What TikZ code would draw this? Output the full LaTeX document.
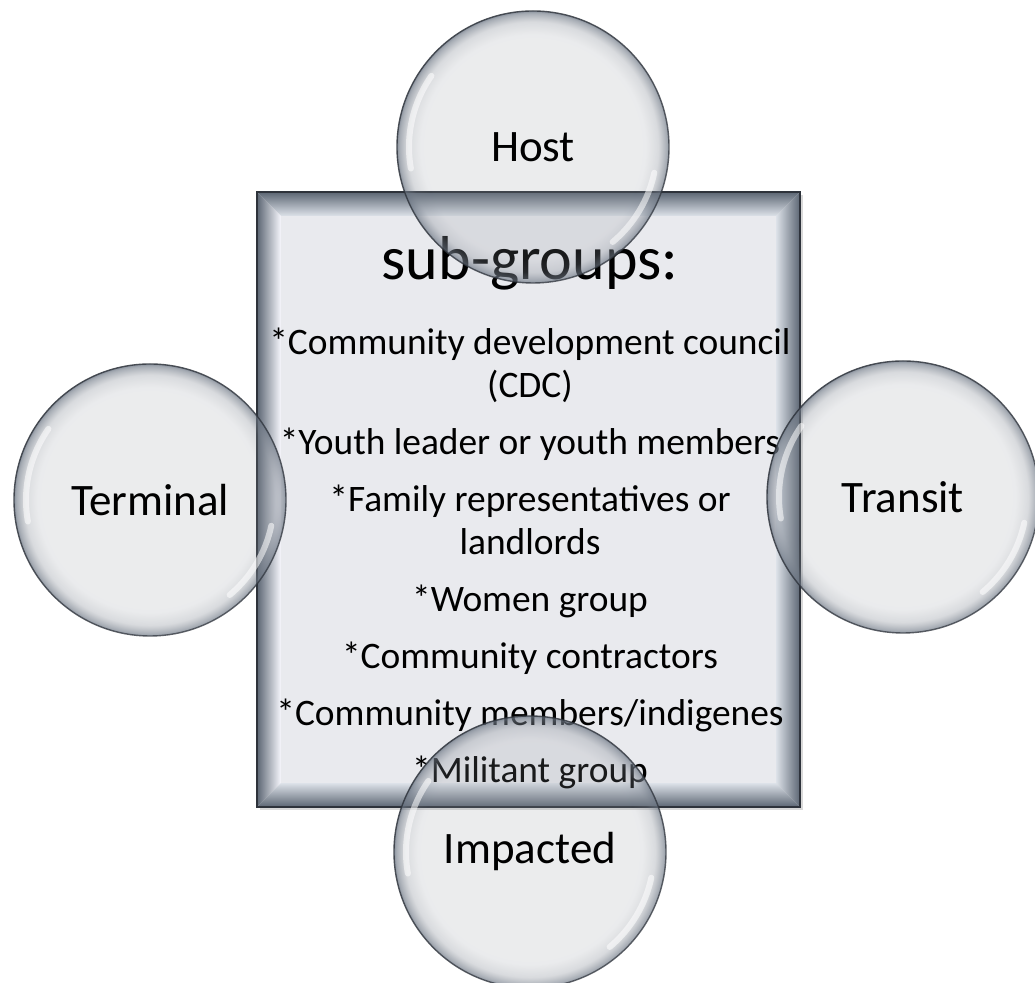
\documentclass[tikz,border=0pt]{standalone}
\usepackage{fontspec}
\setmainfont{Carlito}
\usetikzlibrary{positioning,calc,fadings}

\definecolor{facegrey}{HTML}{E9EAEE}
\definecolor{bevelink}{HTML}{5C6673}
\definecolor{bevellight}{HTML}{DDE2E9}
\definecolor{bevelmid}{HTML}{B2B9C4}
\definecolor{rimline}{HTML}{2E333B}
\definecolor{bubblecore}{HTML}{8E939B}
\definecolor{bubblerim}{HTML}{6A7482}

% glass look of the round bubbles: colour ramp plus an opacity ramp
\pgfdeclareradialshading{bubbleshade}{\pgfpointorigin}{%
  color(0bp)=(bubblecore); color(20bp)=(bubblecore);
  color(23.5bp)=(bubblerim!50!bubblecore); color(25bp)=(bubblerim);
  color(50bp)=(bubblerim)}
\pgfdeclareradialshading{bubblemask}{\pgfpointorigin}{%
  color(0bp)=(pgftransparent!82); color(20.5bp)=(pgftransparent!82);
  color(22.8bp)=(pgftransparent!70); color(24.4bp)=(pgftransparent!38);
  color(25bp)=(pgftransparent!12); color(50bp)=(pgftransparent!12)}
\pgfdeclarefading{bubblefade}{\pgfuseshading{bubblemask}}

\tikzset{
    bubble/.style={
        circle,
        minimum size=136pt,
        inner sep=0pt,
        shading=bubbleshade,
        path fading=bubblefade,
        draw=rimline,
        line width=0.7pt,
        font=\fontsize{22.5}{26}\selectfont,
    },
    gleam/.style={
        white,
        line width=3pt,
        line cap=round,
        opacity=0.55,
    },
    heading/.style={
        font=\fontsize{31}{36}\selectfont,
        anchor=base,
    },
    grouplist/.style={
        align=center,
        font=\fontsize{18.7}{21.5}\selectfont,
        anchor=base,
        inner sep=0pt,
    },
}

\begin{document}
\begin{tikzpicture}[x=0.5pt,y=0.5pt]
    \useasboundingbox (0,0) rectangle (1035,983);
    % outer and inner corners of the bevelled panel
    \coordinate (fA) at (257,791);
    \coordinate (fB) at (800,791);
    \coordinate (fC) at (800,176);
    \coordinate (fD) at (257,176);
    \coordinate (iA) at (281,767);
    \coordinate (iB) at (776,767);
    \coordinate (iC) at (776,200);
    \coordinate (iD) at (281,200);

    \fill[black!15] ($(fA)+(3,-3)$) rectangle ($(fC)+(3,-3)$);
    \shade[top color=bevelink, middle color=bevelmid, bottom color=bevellight]
        (fA) -- (fB) -- (iB) -- (iA) -- cycle;
    \shade[top color=bevellight, middle color=bevelmid, bottom color=bevelink]
        (fD) -- (fC) -- (iC) -- (iD) -- cycle;
    \shade[left color=bevelink, middle color=bevelmid!60!white, right color=bevellight!80!blue!10!white]
        (fA) -- (iA) -- (iD) -- (fD) -- cycle;
    \shade[left color=bevellight, middle color=bevelmid, right color=bevelink]
        (fB) -- (iB) -- (iC) -- (fC) -- cycle;
    \fill[facegrey] (iA) rectangle (iC);
    \draw[rimline, line width=1.2pt] (fA) rectangle (fC);

    \node[heading] (title) at (530,703) {sub-groups:};
    % base anchor sits on the last line
    \node[grouplist] (groups) at (530,200) {%
        *Community development council\\
        (CDC)\\[7pt]
        *Youth leader or youth members\\[7pt]
        *Family representatives or\\
        landlords\\[7pt]
        *Women group\\[7pt]
        *Community contractors\\[7pt]
        *Community members/indigenes\\[7pt]
        *Militant group};

    % the four bubbles around the panel
    \node[bubble] (host) at (533,836) {Host};
    \node[bubble] (terminal) at (150,483) {Terminal};
    \node[bubble] (transit) at (903,486) {Transit};
    \node[bubble] (impacted) at (530,131) {Impacted};

    \foreach \b in {host,terminal,transit,impacted}{
        \draw[gleam] ($(\b.center)+(145:62pt)$) arc[start angle=145, end angle=190, radius=62pt];
        \draw[gleam] ($(\b.center)+(-12:62pt)$) arc[start angle=-12, end angle=-50, radius=62pt];
    }
\end{tikzpicture}
\end{document}
